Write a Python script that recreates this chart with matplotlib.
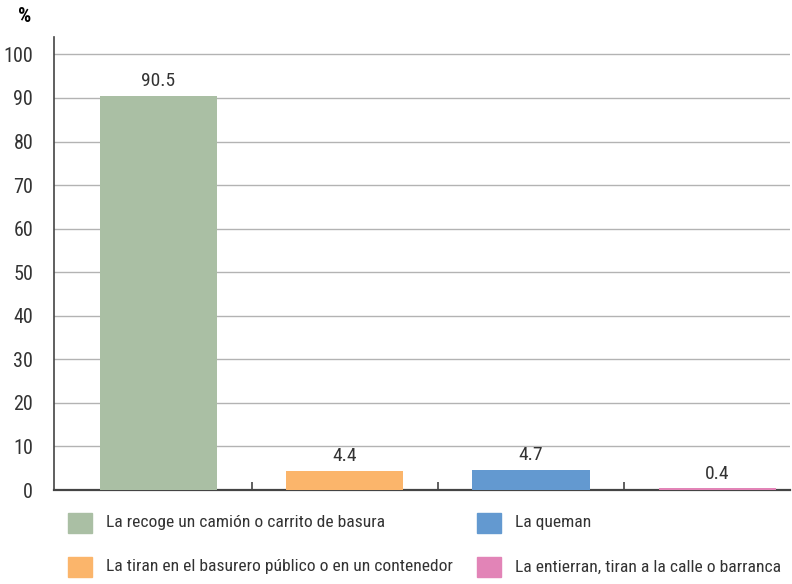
import matplotlib.pyplot as plt
import numpy as np

# datos
categorias = ['La recoge un camión o carrito de basura',
              'La tiran en el basurero público o en un contenedor',
              'La queman',
              'La entierran, tiran a la calle o barranca']
valores = [90.5, 4.4, 4.7, 0.4]
etiquetas = ['90.5', '4.4', '4.7', '0.4']
colores = ['#aabfa4', '#fbb56b', '#6399d0', '#e284b7']
yticks = list(range(0, 101, 10))

plt.rcParams['font.family'] = ['Roboto Condensed', 'Open Sans Condensed', 'DejaVu Sans']
plt.rcParams['font.stretch'] = 'condensed'

W, H = 792, 584
fig = plt.figure(figsize=(W/100, H/100), dpi=100)
ax = fig.add_axes([54/W, 1 - 490/H, (790 - 54)/W, (490 - 37)/H])

x = np.arange(len(valores))
ax.bar(x, valores, width=0.628, color=colores, zorder=3)
for xi, v, t in zip(x, valores, etiquetas):
    ax.text(xi, v + 1.3, t, ha='center', va='bottom', fontsize=14, color='#333333')

ax.set_xlim(-0.56, 3.39)
ax.set_ylim(0, 104)
ax.set_yticks(yticks)
ax.set_yticklabels([str(t) for t in yticks], fontsize=14.5, color='#333333')
ax.yaxis.grid(True, color='#b3b3b3', linewidth=1, zorder=0)
ax.tick_params(axis='y', length=0, pad=15)

# marcas entre categorias
ax.set_xticks([0.5, 1.5, 2.5])
ax.set_xticklabels([])
ax.tick_params(axis='x', direction='in', length=6, color='#444444', width=1.2)

for s in ['top', 'right']:
    ax.spines[s].set_visible(False)
ax.spines['left'].set_color('#444444')
ax.spines['bottom'].set_color('#444444')
ax.spines['left'].set_linewidth(1.2)
ax.spines['bottom'].set_linewidth(1.6)

fig.text(25/W, 1 - 17/H, '%', fontsize=15, fontweight='bold', ha='center', va='center')

# leyenda (dos columnas)
pos_x = [68, 68, 477, 477]
pos_y = [523, 567, 523, 567]
for c, lab, px, py in zip(colores, categorias, pos_x, pos_y):
    fig.patches.append(plt.Rectangle((px/W, 1 - (py + 10)/H), 24/W, 20/H,
                                     color=c, transform=fig.transFigure, figure=fig))
    fig.text((px + 38)/W, 1 - py/H, lab, fontsize=12.6, color='#333333',
             ha='left', va='center')

fig.savefig('out.png', dpi=100)
